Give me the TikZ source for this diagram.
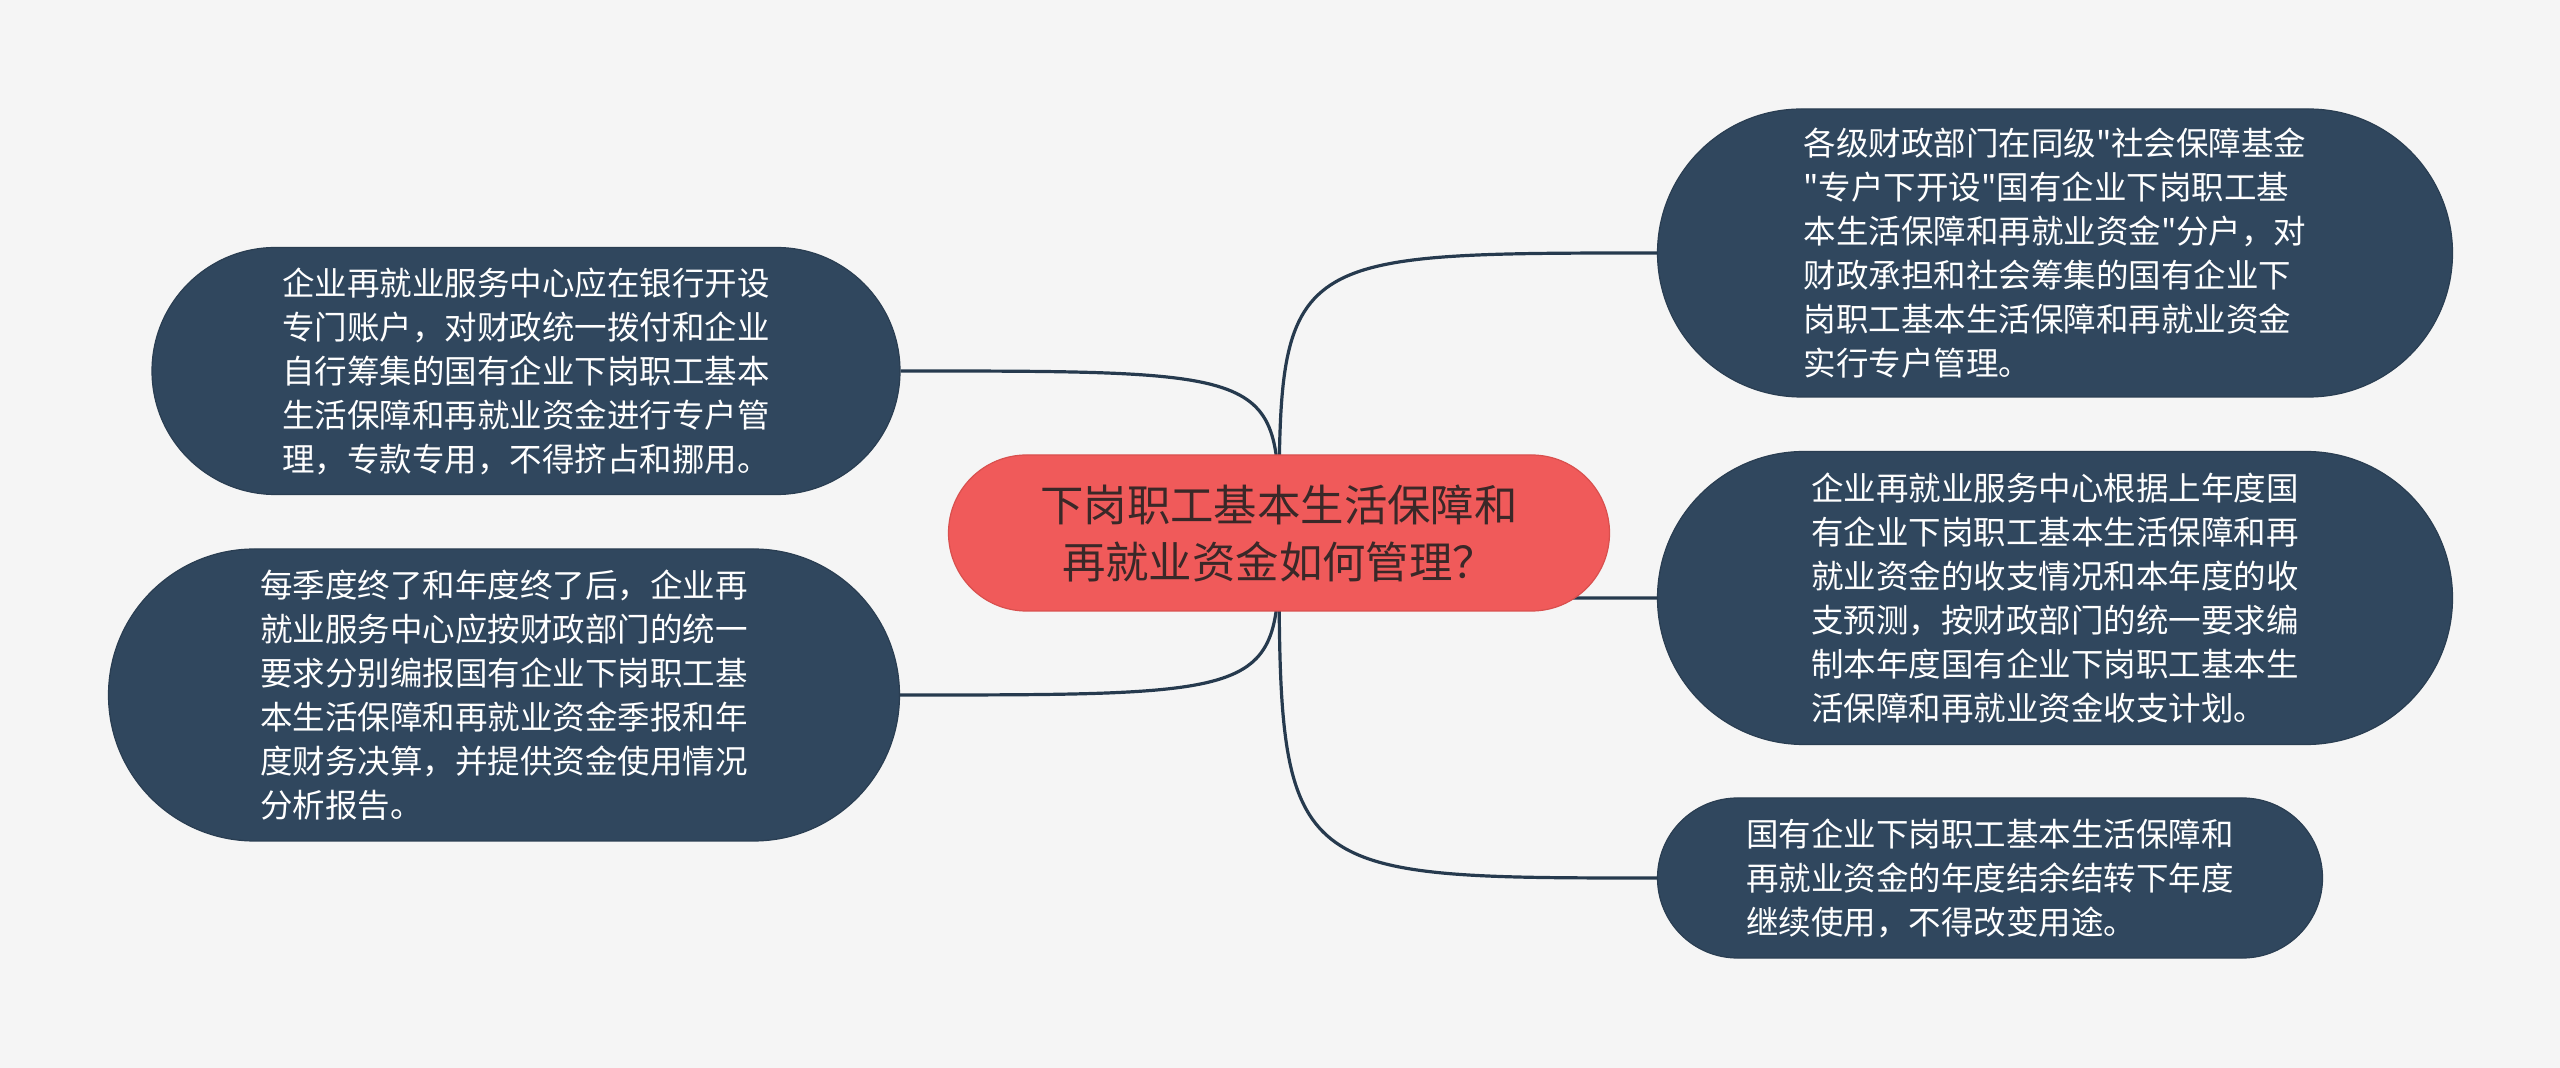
\documentclass[tikz,border=0pt]{standalone}
\usepackage{fontspec}
\newfontfamily\cjk{Noto Sans CJK SC}
\usetikzlibrary{shapes.misc,backgrounds}
\definecolor{bgc}{HTML}{F5F5F5}
\definecolor{rootfill}{HTML}{F05A5A}
\definecolor{rootline}{HTML}{D9504E}
\definecolor{roottext}{HTML}{3A2828}
\definecolor{leaffill}{HTML}{30475E}
\definecolor{leafline}{HTML}{2A3E52}
\definecolor{edgec}{HTML}{263A4E}
\tikzset{
  rootbox/.style={rounded rectangle, fill=rootfill, draw=rootline, line width=0.6pt,
    text=roottext, align=center, inner sep=0pt,
    font=\cjk\fontsize{21.7}{28.5}\selectfont, minimum width=330.5pt, minimum height=78pt},
  leaf/.style={rounded rectangle, fill=leaffill, draw=leafline, line width=0.6pt,
    text=white, align=left, inner sep=0pt, font=\cjk\fontsize{16.25}{22}\selectfont},
  branch/.style={draw=edgec, line width=1.6pt}
}
\begin{document}
\begin{tikzpicture}[x=0.5pt,y=-0.5pt]
\useasboundingbox (0,0) rectangle (2560,1068);
\node[rootbox] (root) at (1279,533) {下岗职工基本生活保障和\\再就业资金如何管理？};
\node[leaf, minimum width=374pt, minimum height=123.5pt] (acct) at (526,371)
  {企业再就业服务中心应在银行开设\\专门账户，对财政统一拨付和企业\\自行筹集的国有企业下岗职工基本\\生活保障和再就业资金进行专户管\\理，专款专用，不得挤占和挪用。};
\node[leaf, minimum width=395.5pt, minimum height=146pt] (report) at (504,695)
  {每季度终了和年度终了后，企业再\\就业服务中心应按财政部门的统一\\要求分别编报国有企业下岗职工基\\本生活保障和再就业资金季报和年\\度财务决算，并提供资金使用情况\\分析报告。};
\node[leaf, minimum width=397.5pt, minimum height=144pt] (subacct) at (2055,253)
  {各级财政部门在同级"社会保障基金\\"专户下开设"国有企业下岗职工基\\本生活保障和再就业资金"分户，对\\财政承担和社会筹集的国有企业下\\岗职工基本生活保障和再就业资金\\实行专户管理。};
\node[leaf, minimum width=397.5pt, minimum height=146.5pt] (plan) at (2055,598)
  {企业再就业服务中心根据上年度国\\有企业下岗职工基本生活保障和再\\就业资金的收支情况和本年度的收\\支预测，按财政部门的统一要求编\\制本年度国有企业下岗职工基本生\\活保障和再就业资金收支计划。};
\node[leaf, minimum width=332.5pt, minimum height=80pt] (surplus) at (1990,878)
  {国有企业下岗职工基本生活保障和\\再就业资金的年度结余结转下年度\\继续使用，不得改变用途。};
\begin{scope}[on background layer]
\fill[bgc] (0,0) rectangle (2560,1068);
\foreach \n in {acct,report}
  \draw[branch] (root.center) .. controls (root.center |- \n.east) .. (\n.east);
\foreach \n in {subacct,plan,surplus}
  \draw[branch] (root.center) .. controls (root.center |- \n.west) .. (\n.west);
\end{scope}
\end{tikzpicture}
\end{document}
